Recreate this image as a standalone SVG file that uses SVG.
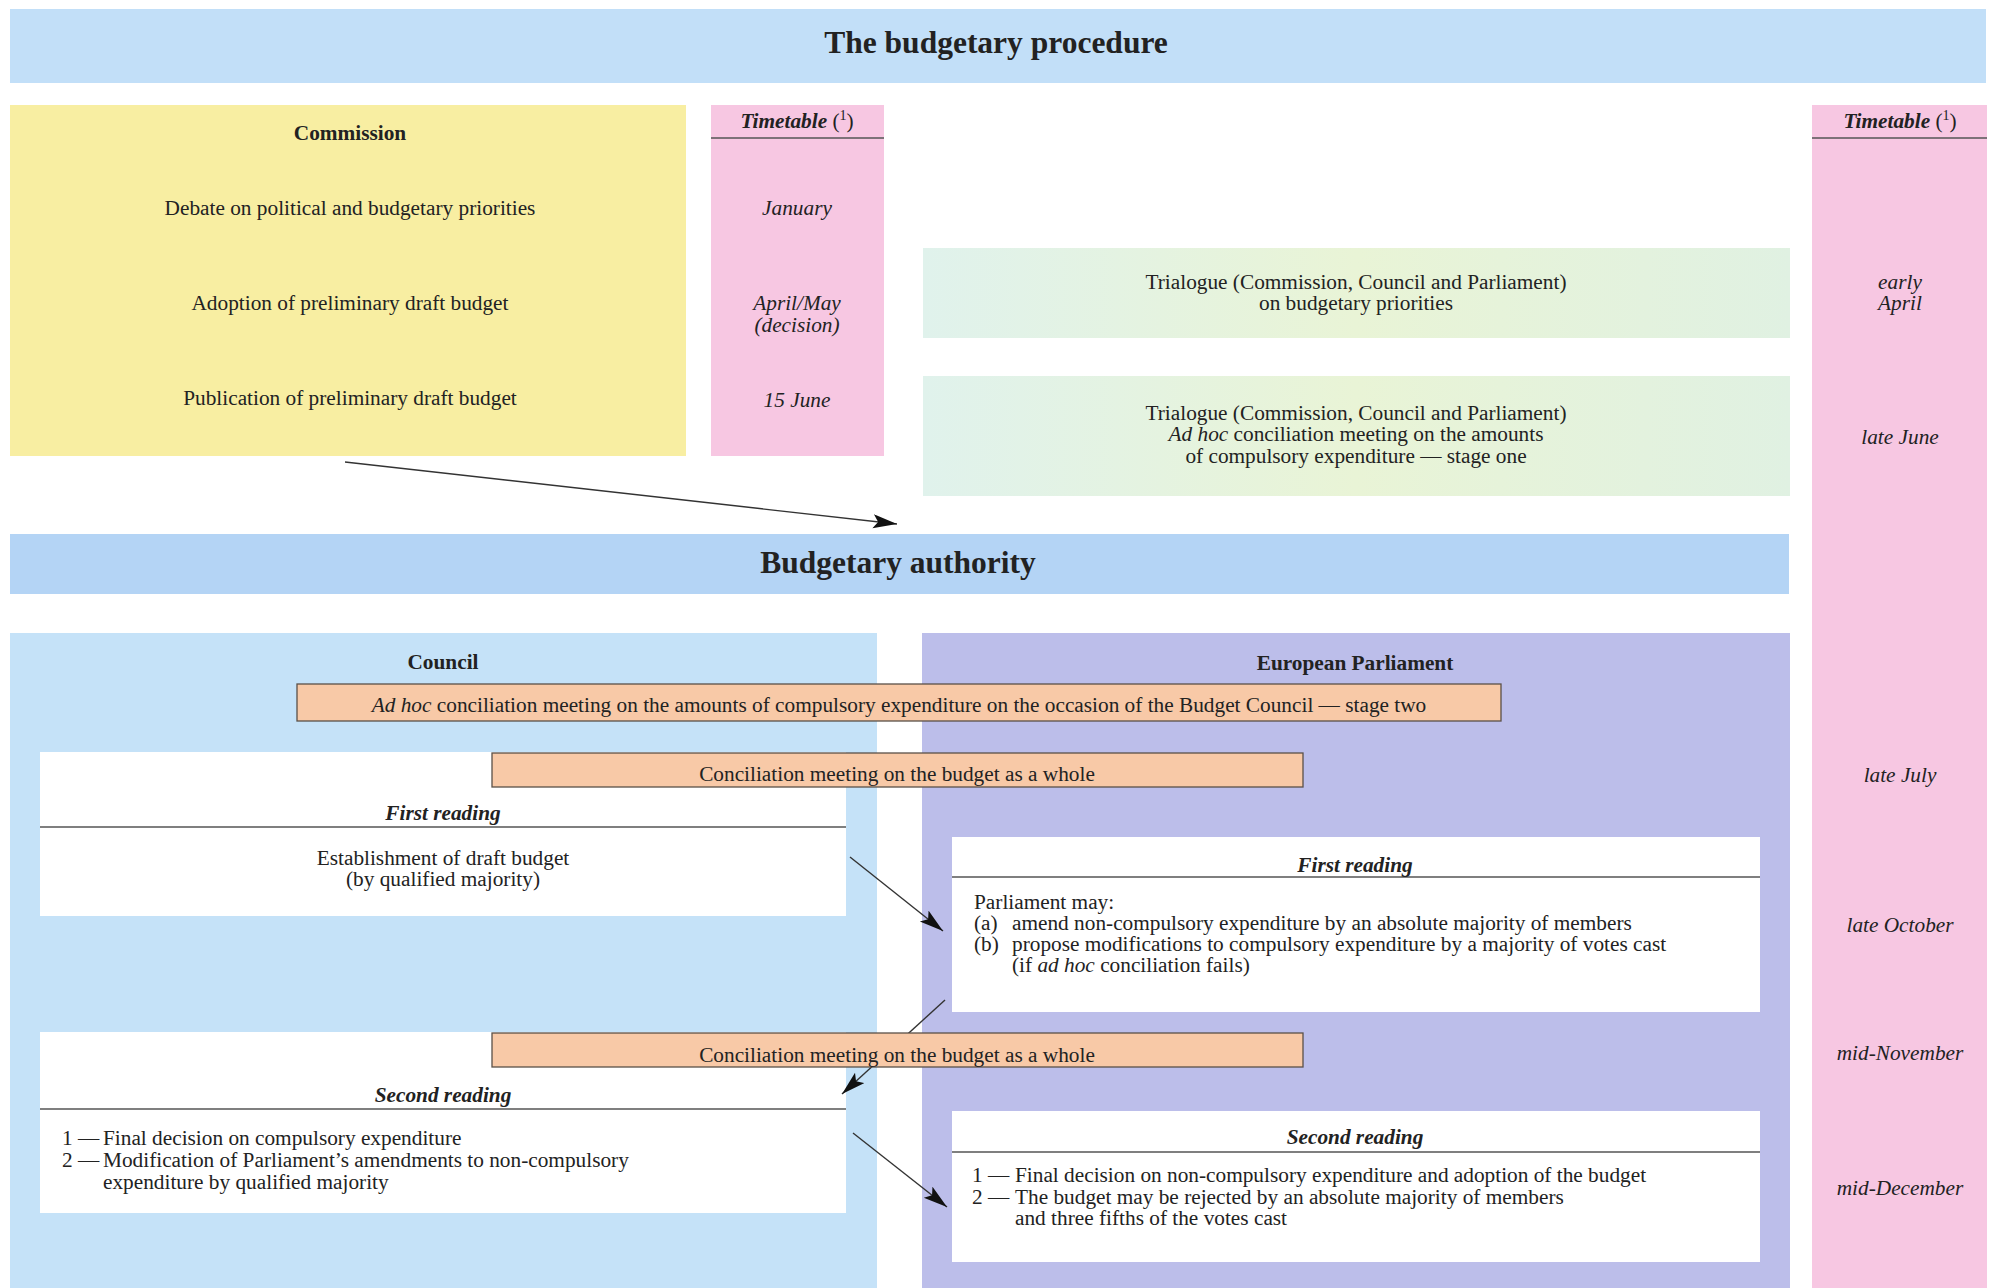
<svg xmlns="http://www.w3.org/2000/svg" width="1994" height="1288" viewBox="0 0 1994 1288">
<style>
text{font-family:"Liberation Serif","Times New Roman",serif;fill:#222;font-size:21.3px}
.c{text-anchor:middle}
.h1{font-size:31.5px;font-weight:bold}
.b{font-weight:bold}
.bi{font-weight:bold;font-style:italic}
.i{font-style:italic}
.up{font-style:normal;font-weight:normal}
.rule{stroke:#555;stroke-width:1.5}
.white{fill:#ffffff}
.orange{fill:#f8c9a7;stroke:#5a5048;stroke-width:1.3}
.pink{fill:#f7c7e2}
.conn{stroke:#333;stroke-width:1.4;fill:none;marker-end:url(#ah)}
</style>
<defs>
<marker id="ah" markerUnits="userSpaceOnUse" markerWidth="26" markerHeight="16" refX="24" refY="7" orient="auto">
<path d="M0,0 L24,7 L0,14 L5,7 z" fill="#111"/>
</marker>
<linearGradient id="tri" x1="0" y1="0" x2="1" y2="0">
<stop offset="0" stop-color="#e0f2ec"/>
<stop offset="0.5" stop-color="#e9f4d6"/>
<stop offset="1" stop-color="#e0f1e2"/>
</linearGradient>
</defs>
<rect width="1994" height="1288" fill="#ffffff"/>

<g id="title">
<rect x="10" y="9" width="1976" height="74" fill="#c2dff8"/>
<text class="c h1" x="996" y="53">The budgetary procedure</text>
</g>

<g id="commission">
<rect x="10" y="105" width="676" height="351" fill="#f8eea2"/>
<text class="c b" x="350" y="140">Commission</text>
<text class="c" x="350" y="215">Debate on political and budgetary priorities</text>
<text class="c" x="350" y="310">Adoption of preliminary draft budget</text>
<text class="c" x="350" y="405">Publication of preliminary draft budget</text>
</g>

<g id="timetable-left">
<rect class="pink" x="711" y="105" width="173" height="351"/>
<line class="rule" x1="711" y1="138" x2="884" y2="138"/>
<text class="c bi" x="797" y="128">Timetable <tspan class="up">(</tspan><tspan class="up" font-size="14" dy="-8">1</tspan><tspan class="up" dy="8">)</tspan></text>
<text class="c i" x="797" y="215">January</text>
<text class="c i" x="797" y="310">April/May</text>
<text class="c i" x="797" y="332">(decision)</text>
<text class="c i" x="797" y="407">15 June</text>
</g>

<g id="trialogue-1">
<rect x="923" y="248" width="867" height="90" fill="url(#tri)"/>
<text class="c" x="1356" y="289">Trialogue (Commission, Council and Parliament)</text>
<text class="c" x="1356" y="310">on budgetary priorities</text>
</g>

<g id="trialogue-2">
<rect x="923" y="376" width="867" height="120" fill="url(#tri)"/>
<text class="c" x="1356" y="420">Trialogue (Commission, Council and Parliament)</text>
<text class="c" x="1356" y="441"><tspan class="i">Ad hoc</tspan> conciliation meeting on the amounts</text>
<text class="c" x="1356" y="463">of compulsory expenditure — stage one</text>
</g>

<g id="timetable-right">
<rect class="pink" x="1812" y="105" width="175" height="1183"/>
<line class="rule" x1="1812" y1="138" x2="1987" y2="138"/>
<text class="c bi" x="1900" y="128">Timetable <tspan class="up">(</tspan><tspan class="up" font-size="14" dy="-8">1</tspan><tspan class="up" dy="8">)</tspan></text>
<text class="c i" x="1900" y="289">early</text>
<text class="c i" x="1900" y="310">April</text>
<text class="c i" x="1900" y="444">late June</text>
<text class="c i" x="1900" y="782">late July</text>
<text class="c i" x="1900" y="932">late October</text>
<text class="c i" x="1900" y="1060">mid-November</text>
<text class="c i" x="1900" y="1195">mid-December</text>
</g>

<g id="budgetary-authority">
<rect x="10" y="534" width="1779" height="60" fill="#b4d4f5"/>
<text class="c h1" x="898" y="573">Budgetary authority</text>
</g>

<g id="council">
<rect x="10" y="633" width="867" height="655" fill="#c5e2f8"/>
<text class="c b" x="443" y="669">Council</text>
</g>

<g id="parliament">
<rect x="922" y="633" width="868" height="655" fill="#bcbeea"/>
<text class="c b" x="1355" y="670">European Parliament</text>
</g>

<g id="council-first-reading">
<rect class="white" x="40" y="752" width="806" height="164"/>
<line class="rule" x1="40" y1="827" x2="846" y2="827"/>
<text class="c bi" x="443" y="820">First reading</text>
<text class="c" x="443" y="865">Establishment of draft budget</text>
<text class="c" x="443" y="886">(by qualified majority)</text>
</g>

<g id="ep-first-reading">
<rect class="white" x="952" y="837" width="808" height="175"/>
<line class="rule" x1="952" y1="877" x2="1760" y2="877"/>
<text class="c bi" x="1355" y="872">First reading</text>
<text x="974" y="909">Parliament may:</text>
<text x="974" y="930">(a)<tspan x="1012">amend non-compulsory expenditure by an absolute majority of members</tspan></text>
<text x="974" y="951">(b)<tspan x="1012">propose modifications to compulsory expenditure by a majority of votes cast</tspan></text>
<text x="1012" y="972">(if <tspan class="i">ad hoc</tspan> conciliation fails)</text>
</g>

<g id="council-second-reading">
<rect class="white" x="40" y="1032" width="806" height="181"/>
<line class="rule" x1="40" y1="1109" x2="846" y2="1109"/>
<text class="c bi" x="443" y="1102">Second reading</text>
<text x="62" y="1145">1 —<tspan x="103">Final decision on compulsory expenditure</tspan></text>
<text x="62" y="1167">2 —<tspan x="103">Modification of Parliament’s amendments to non-compulsory</tspan></text>
<text x="103" y="1189">expenditure by qualified majority</text>
</g>

<g id="ep-second-reading">
<rect class="white" x="952" y="1111" width="808" height="151"/>
<line class="rule" x1="952" y1="1152" x2="1760" y2="1152"/>
<text class="c bi" x="1355" y="1144">Second reading</text>
<text x="972" y="1182">1 —<tspan x="1015">Final decision on non-compulsory expenditure and adoption of the budget</tspan></text>
<text x="972" y="1204">2 —<tspan x="1015">The budget may be rejected by an absolute majority of members</tspan></text>
<text x="1015" y="1225">and three fifths of the votes cast</text>
</g>

<g id="connectors">
<line class="conn" x1="345" y1="462" x2="897" y2="524"/>
<line class="conn" x1="850" y1="857" x2="943" y2="931"/>
<line class="conn" x1="945" y1="1000" x2="842" y2="1094"/>
<line class="conn" x1="853" y1="1133" x2="947" y2="1207"/>
</g>

<g id="adhoc-stage-two">
<rect class="orange" x="297" y="684" width="1204" height="37"/>
<text class="c" x="899" y="712"><tspan class="i">Ad hoc</tspan> conciliation meeting on the amounts of compulsory expenditure on the occasion of the Budget Council — stage two</text>
</g>

<g id="conciliation-1">
<rect class="orange" x="492" y="753" width="811" height="34"/>
<text class="c" x="897" y="781">Conciliation meeting on the budget as a whole</text>
</g>

<g id="conciliation-2">
<rect class="orange" x="492" y="1033" width="811" height="34"/>
<text class="c" x="897" y="1062">Conciliation meeting on the budget as a whole</text>
</g>
</svg>
